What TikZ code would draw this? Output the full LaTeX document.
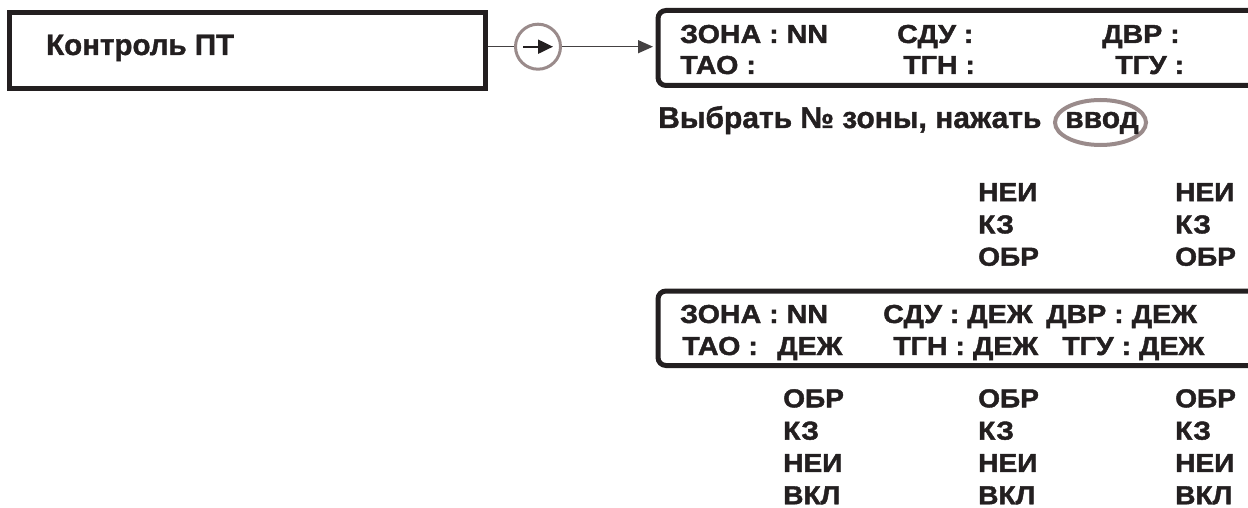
\documentclass[tikz,border=0pt]{standalone}
\usepackage{fontspec}
\setmainfont{Liberation Sans}[BoldFeatures={FakeBold=1.2}]
\newfontfamily\lcdfont{Liberation Sans}[FakeStretch=1.1, BoldFeatures={FakeBold=1.6}]
\newfontfamily\tagfont{Liberation Sans}[FakeStretch=1.08, BoldFeatures={FakeBold=1.6}]
\usetikzlibrary{arrows.meta,positioning,shapes.geometric}
\definecolor{ink}{HTML}{231F20}
\definecolor{keygray}{HTML}{9A8B8B}

\begin{document}
\begin{tikzpicture}[
    x=1pt, y=-1pt,
    >={Triangle[length=15pt, width=13pt]},
    panel/.style={
        draw=ink, line width=5pt, inner sep=0pt
    },
    screen/.style={
        panel, rounded corners=8pt,
        minimum width=642pt, minimum height=75pt
    },
    keycap/.style={
        draw=keygray, line width=#1, inner sep=0pt
    },
    keycap/.default=3pt,
    title/.style={
        anchor=base west, inner sep=0pt, text=ink,
        font=\bfseries\fontsize{29.5}{33}\selectfont
    },
    prompt/.style={
        inner sep=0pt, text=ink,
        font=\bfseries\fontsize{30}{34}\selectfont
    },
    lcd/.style={
        anchor=base west, inner sep=0pt, text=ink,
        font=\lcdfont\bfseries\fontsize{26}{30}\selectfont
    },
    state/.style={
        anchor=north west, inner sep=0pt, text=ink, align=left,
        font=\tagfont\bfseries\fontsize{26}{32.3}\selectfont
    },
]
\useasboundingbox (0,0) rectangle (1248,508);

% -- menu item --
\node[panel, minimum width=476pt, minimum height=76.5pt] (ctrl) at (247,50.75) {};
\node[title] (ctrltxt) at (46,55) {Контроль ПТ};

% -- button --
\node[keycap, circle, minimum size=45pt] (go) at (538,46.7) {};
\draw[->, >={Triangle[length=15pt, width=14pt]}, ink, line width=2pt]
    ([xshift=-15pt]go.center) -- ([xshift=15pt]go.center);

% -- first screen --
\node[screen] (scr1) at (979,48) {};
\node[lcd] (zone1) at (680,43) {ЗОНА : NN};
\node[lcd] (sdu1) at (897,43) {СДУ :};
\node[lcd] (dvr1) at (1102,43) {ДВР :};
\node[lcd] (tao1) at (680,74) {ТАО :};
\node[lcd] (tgn1) at (903,74) {ТГН :};
\node[lcd] (tgu1) at (1115,74) {ТГУ :};

\draw[ink!85, line width=1.3pt] (ctrl.east |- go.west) -- (go.west);
\draw[->, ink!85, line width=1.3pt, shorten >=2.5pt] (go.east) -- (scr1.west |- go.east);

% -- prompt --
\node[prompt, anchor=base west] (select) at (658,128) {Выбрать № зоны, нажать};
\node[keycap=4pt, ellipse, minimum width=91pt, minimum height=45pt] (enter) at (1100.5,122.5) {};
\node[prompt, anchor=base] (entertxt) at (1102,128) {ввод};

% -- states above --
\node[state] (listdvr) at (978,183) {НЕИ\\КЗ\\ОБР};
\node[state] (listtgu) at (1175,183) {НЕИ\\КЗ\\ОБР};

% -- second screen --
\node[screen, minimum height=74.5pt] (scr2) at (979,328.25) {};
\node[lcd] (zone2) at (680,323) {ЗОНА : NN};
\node[lcd] (sdu2) at (883,323) {СДУ : ДЕЖ};
\node[lcd] (dvr2) at (1046,323) {ДВР : ДЕЖ};
\node[lcd] (tao2) at (682,355) {ТАО :};
\node[lcd] (duty2) at (777,355) {ДЕЖ};
\node[lcd] (tgn2) at (893,355) {ТГН : ДЕЖ};
\node[lcd] (tgu2) at (1062,355) {ТГУ : ДЕЖ};

% -- states below --
\node[state] (listtao) at (783,389) {ОБР\\КЗ\\НЕИ\\ВКЛ};
\node[state] (listtgn) at (978,389) {ОБР\\КЗ\\НЕИ\\ВКЛ};
\node[state] (listtgu2) at (1175,389) {ОБР\\КЗ\\НЕИ\\ВКЛ};

\end{tikzpicture}
\end{document}
